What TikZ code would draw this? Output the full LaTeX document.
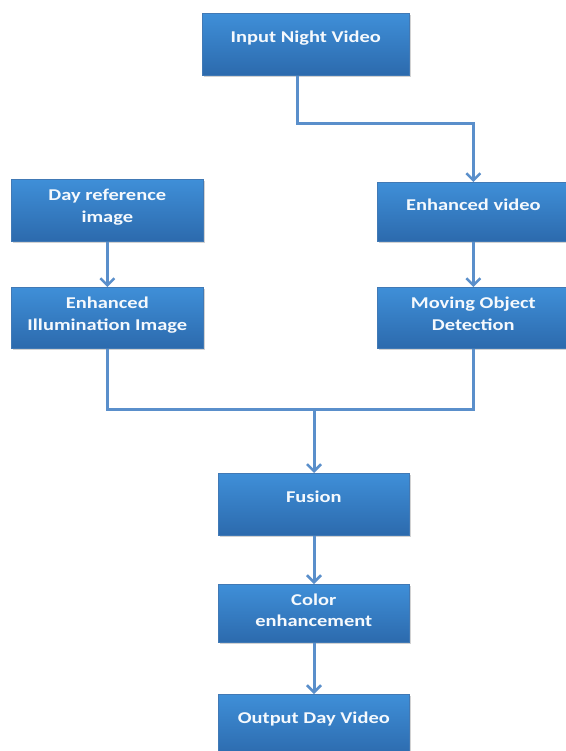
\documentclass[tikz,border=0pt]{standalone}
\usepackage{fontspec}
\setmainfont{Carlito}
\newfontfamily\boxfont{Carlito}[FakeStretch=1.24]
\usetikzlibrary{arrows.meta,shadows,calc}
\definecolor{boxtop}{HTML}{3F8FD8}
\definecolor{boxbot}{HTML}{2C6AAD}
\definecolor{linec}{HTML}{5A8FCB}
\tikzset{
  box/.style={rectangle, draw=boxbot!90!white, line width=0.6pt, top color=boxtop, bottom color=boxbot,
    minimum width=192pt, minimum height=62pt, anchor=north west, inner sep=0pt,
    drop shadow={shadow xshift=1.5pt, shadow yshift=-1.5pt, opacity=0.35}},
  lbl/.style={text=white!95!boxtop, font=\boxfont\fontsize{16.5}{22}\selectfont\bfseries, anchor=base, inner sep=0pt},
  conn/.style={draw=linec, line width=3pt},
  arr/.style={conn, -{Straight Barb[length=7pt,width=14pt,line width=2.5pt]}}
}
\begin{document}
\begin{tikzpicture}[x=1pt,y=-1pt]
\useasboundingbox[fill=white] (0,0) rectangle (565,751);
\node[box, minimum width=207pt, minimum height=62pt] (inv) at (202,13) {};
\node[box, minimum width=192pt, minimum height=62pt] (day) at (11,179) {};
\node[box, minimum width=192pt, minimum height=59pt] (env) at (377,182) {};
\node[box, minimum width=192pt, minimum height=61pt] (eii) at (11,287) {};
\node[box, minimum width=192pt, minimum height=61pt] (mod) at (377,287) {};
\node[box, minimum width=191pt, minimum height=62pt] (fus) at (218,473) {};
\node[box, minimum width=191pt, minimum height=58pt] (col) at (218,584) {};
\node[box, minimum width=191pt, minimum height=62pt] (out) at (218,694) {};
% labels
\node[lbl] (inv-t) at ($(inv.center)+(0,-1.5)$) {Input Night Video};
\node[lbl] (day-t1) at ($(day.center)+(0,-9.5)$) {Day reference};
\node[lbl] (day-t2) at ($(day.center)+(0,12.5)$) {image};
\node[lbl] (env-t) at ($(env.center)+(0,-1.5)$) {Enhanced video};
\node[lbl] (eii-t1) at ($(eii.center)+(0,-9.5)$) {Enhanced};
\node[lbl] (eii-t2) at ($(eii.center)+(0,12.5)$) {Illumination Image};
\node[lbl] (mod-t1) at ($(mod.center)+(0,-9.5)$) {Moving Object};
\node[lbl] (mod-t2) at ($(mod.center)+(0,12.5)$) {Detection};
\node[lbl] (fus-t) at ($(fus.center)+(0,-2)$) {Fusion};
\node[lbl] (col-t1) at ($(col.center)+(0,-8)$) {Color};
\node[lbl] (col-t2) at ($(col.center)+(0,13.5)$) {enhancement};
\node[lbl] (out-t) at (out.center |- 0,723) {Output Day Video};
% connectors
\coordinate (j1) at (297,124);
\coordinate (j2) at (314,409);
\draw[arr] (inv.south -| j1) -- (j1) -- (j1 -| env.north) -- (env.north);
\draw[arr] (day.south) -- (eii.north);
\draw[arr] (env.south) -- (mod.north);
\draw[conn] (eii.south) -- (eii.south |- j2) -- (mod.south |- j2) -- (mod.south);
\draw[arr] (j2) -- (j2 |- fus.north);
\draw[arr] (fus.south -| j2) -- (j2 |- col.north);
\draw[arr] (col.south -| j2) -- (j2 |- out.north);
\end{tikzpicture}
\end{document}
